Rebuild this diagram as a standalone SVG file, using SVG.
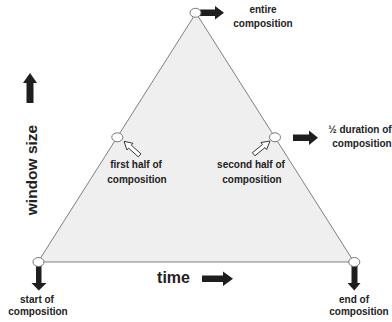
<svg xmlns="http://www.w3.org/2000/svg" width="392" height="322" viewBox="0 0 392 322">
<defs>
<style>
.lbl{font-family:"Liberation Sans",Arial,sans-serif;font-weight:bold;font-size:10px;fill:#222;text-anchor:middle}
.axis{font-family:"Liberation Sans",Arial,sans-serif;font-weight:bold;font-size:16px;fill:#222;text-anchor:middle}
.pt{fill:#fff;stroke:#777;stroke-width:1}
.blk{fill:#1e1e1e;stroke:none}
.hol{fill:#fff;stroke:#333;stroke-width:0.9}
</style>
<path id="harrow" d="M-21,-2 L-8,-2 L-8,-4.5 L0,0 L-8,4.5 L-8,2 L-21,2 Z"/>
</defs>
<rect width="392" height="322" fill="#fff"/>
<g id="triangle">
<polygon points="196,13 38,262 354,262" fill="#efefef" stroke="#808080" stroke-width="1"/>
</g>
<g id="connectors">
<path class="blk" d="M200,9.5 H215 V6 L224,12.8 L215,19.5 V16 H200 Z"/>
<path class="blk" d="M293,134.5 H309 V130.5 L318,137.8 L309,145 V141 H293 Z"/>
<path class="blk" d="M36,263 H41.5 V283 H46.5 L38.8,290.5 L31.5,283 H36 Z"/>
<path class="blk" d="M351.5,263 H357.5 V283 H360.5 L354.3,290.5 L347.5,283 H351.5 Z"/>
<path class="blk" d="M26.5,103 V83 H23 L30,73 L37,83 H33.5 V103 Z"/>
<path class="blk" d="M202,275.5 H223 V271.5 L233,278.7 L223,286 V282 H202 Z"/>
<use href="#harrow" class="hol" transform="translate(124,141.3) rotate(222)"/>
<use href="#harrow" class="hol" transform="translate(270,141) rotate(-39)"/>
</g>
<g id="node-apex">
<ellipse class="pt" cx="195.5" cy="12.8" rx="5.5" ry="4.5"/>
<text class="lbl" x="263" y="13">entire</text>
<text class="lbl" x="263" y="27">composition</text>
</g>
<g id="node-left-mid">
<ellipse class="pt" cx="117.3" cy="137.3" rx="5.5" ry="4.5"/>
<text class="lbl" x="136" y="168">first half of</text>
<text class="lbl" x="137" y="183">composition</text>
</g>
<g id="node-right-mid">
<ellipse class="pt" cx="275" cy="137.3" rx="5.5" ry="4.5"/>
<text class="lbl" x="251" y="168">second half of</text>
<text class="lbl" x="252" y="183">composition</text>
<text class="lbl" x="360" y="133">½ duration of</text>
<text class="lbl" x="362" y="147">composition</text>
</g>
<g id="node-start">
<ellipse class="pt" cx="38.5" cy="262" rx="5.5" ry="4.5"/>
<text class="lbl" x="37" y="303">start of</text>
<text class="lbl" x="38" y="315">composition</text>
</g>
<g id="node-end">
<ellipse class="pt" cx="354.3" cy="262" rx="5.5" ry="4.5"/>
<text class="lbl" x="354" y="303">end of</text>
<text class="lbl" x="359" y="315">composition</text>
</g>
<g id="axes">
<text class="axis" x="173.5" y="283.3">time</text>
<text class="axis" transform="translate(37,170) rotate(-90)" x="0" y="0" style="font-size:15.5px">window size</text>
</g>
</svg>
